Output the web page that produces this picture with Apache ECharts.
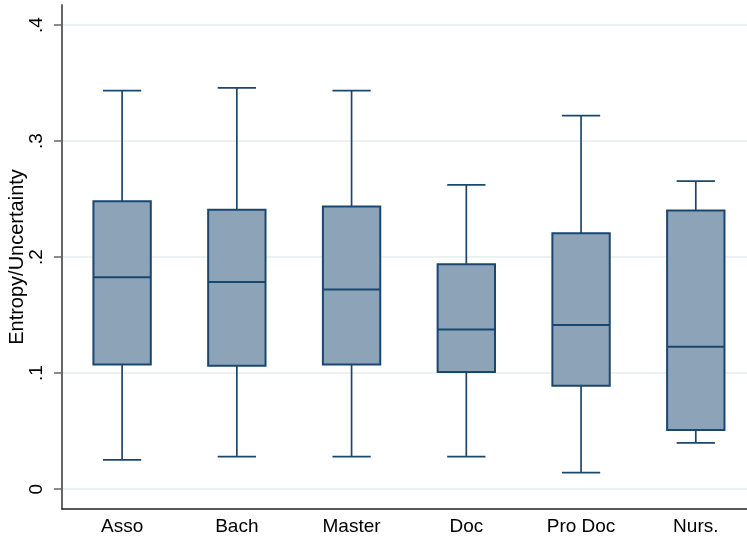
<!DOCTYPE html>
<html>
<head>
<meta charset="utf-8">
<script src="https://cdn.jsdelivr.net/npm/echarts@6/dist/echarts.min.js"></script>
<style>
  html, body { margin: 0; padding: 0; background: #fff; }
  #chart { width: 747px; height: 538px; }
</style>
</head>
<body>
<div id="chart"></div>
<script>
// Groups along the horizontal axis
const categories = ['Asso', 'Bach', 'Master', 'Doc', 'Pro Doc', 'Nurs.'];

// Box-plot statistics per group
const lowerWhisker = [0.0253, 0.0281, 0.0281, 0.0281, 0.0143, 0.0399];
const lowerQuartile = [0.1074, 0.1063, 0.1074, 0.1010, 0.0892, 0.0510];
const medians = [0.1827, 0.1785, 0.1721, 0.1376, 0.1416, 0.1227];
const upperQuartile = [0.2482, 0.2409, 0.2436, 0.1940, 0.2207, 0.2402];
const upperWhisker = [0.3436, 0.3460, 0.3436, 0.2623, 0.3221, 0.2655];

// Value-axis ticks and their printed labels
const yTickValues = [0, 0.1, 0.2, 0.3, 0.4];
const yTickLabels = ['0', '.1', '.2', '.3', '.4'];

const LINE = '#1a476f';
const FILL = '#8da3b7';
const FONT = '"Liberation Sans", Arial, Helvetica, sans-serif';

const rows = categories.map((c, i) => [
  i, lowerWhisker[i], lowerQuartile[i], medians[i], upperQuartile[i], upperWhisker[i]
]);

function renderBox(params, api) {
  const x = api.value(0);
  const pLow = api.coord([x, api.value(1)]);
  const pQ1 = api.coord([x, api.value(2)]);
  const pMed = api.coord([x, api.value(3)]);
  const pQ3 = api.coord([x, api.value(4)]);
  const pHigh = api.coord([x, api.value(5)]);
  const band = api.size([1, 0])[0];
  const boxW = band * 0.5;
  const capW = band / 3;
  const cx = pMed[0];
  const whisk = { stroke: LINE, lineWidth: 1.7, fill: null };
  return {
    type: 'group',
    children: [
      { type: 'line', shape: { x1: cx, y1: pQ3[1], x2: cx, y2: pHigh[1] }, style: whisk },
      { type: 'line', shape: { x1: cx, y1: pQ1[1], x2: cx, y2: pLow[1] }, style: whisk },
      { type: 'line', shape: { x1: cx - capW / 2, y1: pHigh[1], x2: cx + capW / 2, y2: pHigh[1] }, style: whisk },
      { type: 'line', shape: { x1: cx - capW / 2, y1: pLow[1], x2: cx + capW / 2, y2: pLow[1] }, style: whisk },
      { type: 'rect', shape: { x: cx - boxW / 2, y: pQ3[1], width: boxW, height: pQ1[1] - pQ3[1] },
        style: { fill: FILL, stroke: LINE, lineWidth: 2 } },
      { type: 'line', shape: { x1: cx - boxW / 2, y1: pMed[1], x2: cx + boxW / 2, y2: pMed[1] },
        style: { stroke: LINE, lineWidth: 2 } }
    ]
  };
}

const chart = echarts.init(document.getElementById('chart'), null, { renderer: 'canvas' });
chart.setOption({
  animation: false,
  backgroundColor: '#ffffff',
  grid: { left: 62, right: 0, top: 5, bottom: 29, containLabel: false, outerBoundsMode: 'none' },
  xAxis: {
    type: 'value',
    min: -0.5238,
    max: 5.4463,
    axisLine: { show: true, onZero: false, lineStyle: { color: '#222', width: 1.5 } },
    axisTick: { show: false },
    splitLine: { show: false },
    axisLabel: {
      customValues: categories.map((c, i) => i),
      formatter: v => categories[Math.round(v)],
      color: '#000', fontFamily: FONT, fontSize: 19, margin: 8
    }
  },
  yAxis: {
    type: 'value',
    min: -0.0171,
    max: 0.4174,
    name: 'Entropy/Uncertainty',
    nameLocation: 'middle',
    nameGap: 35,
    nameMoveOverlap: false,
    nameTextStyle: { color: '#000', fontFamily: FONT, fontSize: 20 },
    axisLine: { show: true, onZero: false, lineStyle: { color: '#666', width: 2 } },
    axisTick: { show: true, length: 8, customValues: yTickValues, lineStyle: { color: '#666', width: 1.5 } },
    splitLine: { show: true, lineStyle: { color: '#e6eef0', width: 1.5 } },
    axisLabel: {
      customValues: yTickValues,
      rotate: 90,
      formatter: v => yTickLabels[yTickValues.findIndex(t => Math.abs(t - v) < 1e-6)],
      color: '#000', fontFamily: FONT, fontSize: 19, margin: 16
    }
  },
  series: [{
    type: 'custom',
    renderItem: renderBox,
    encode: { x: 0, y: [1, 2, 3, 4, 5] },
    data: rows,
    z: 5
  }]
});
</script>
</body>
</html>
